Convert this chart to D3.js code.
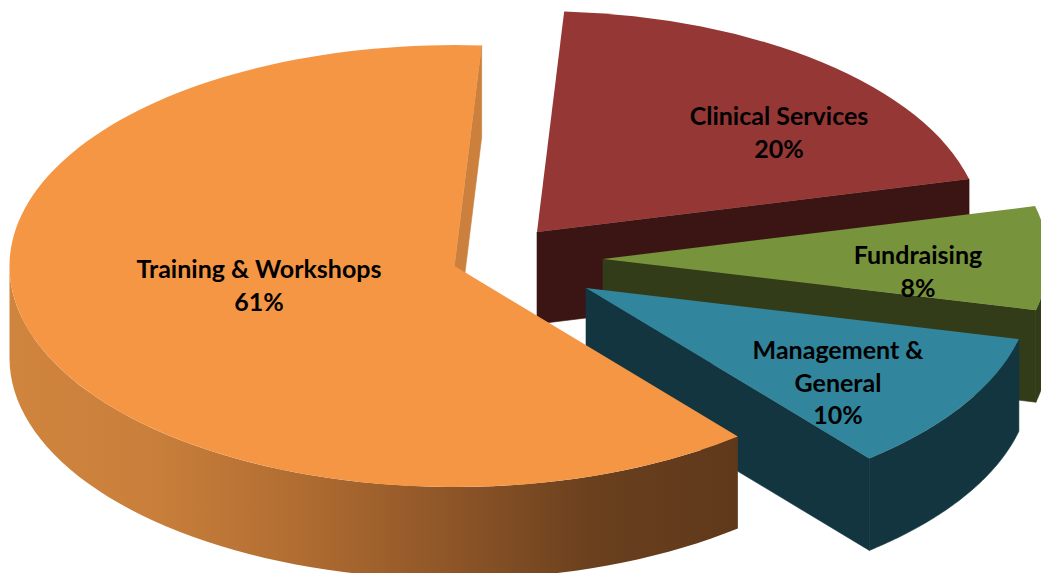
<!DOCTYPE html>
<html>
<head>
<meta charset="utf-8">
<script src="https://cdn.jsdelivr.net/npm/d3@7"></script>
<style>
  html, body { margin: 0; padding: 0; background: #fff; overflow: hidden; }
  svg { display: block; }
</style>
</head>
<body>
<div id="container"></div>
<script>
const width = 1041;
const height = 573;

// chart data, clockwise from the top
const categories = ["Clinical Services", "Fundraising", "Management & General", "Training & Workshops"];
const values = [20.0, 7.5, 10.2, 61.4];
const labelLines = [["Clinical Services"], ["Fundraising"], ["Management &", "General"], ["Training & Workshops"]];

// look of the slices
const topColors = ["#953735", "#77933c", "#31859c", "#f59645"];
const sideColors = ["#3b1514", "#333c18", "#133540", "#cb813d"];
const apexX = [537, 603, 586, 454.5];
const apexY = [232, 259, 288, 266];
const labelX = [779, 918, 838, 259];
const labelY = [125, 264, 359, 278];
const gradientStops = [
  [0, "#d0853e"], [0.2, "#c97f3b"], [0.4, "#b06c31"],
  [0.6, "#8f5628"], [0.8, "#6a401e"], [1, "#5f391b"]
];

const rx = 445;
const ry = 221;
const depth = 92;
const startAngle = 3.5 * Math.PI / 180;
const lineGap = 32.5;

const pie = d3.pie().sort(null).startAngle(startAngle).endAngle(startAngle + 2 * Math.PI);
const arcs = pie(values);
const arc = d3.arc().innerRadius(0).outerRadius(rx);
const line = d3.line();
const percent = d3.format(".0f");

const svg = d3.select("#container")
  .append("svg")
  .attr("width", width)
  .attr("height", height);

// coordinates are relative to the apex, like the wall it fills
const gradient = svg.append("defs")
  .append("linearGradient")
  .attr("id", "trainingSide")
  .attr("gradientUnits", "userSpaceOnUse")
  .attr("x1", -rx)
  .attr("x2", rx * Math.sin(arcs[3].startAngle))
  .attr("y1", 0)
  .attr("y2", 0);

gradient.selectAll("stop")
  .data(gradientStops)
  .enter()
  .append("stop")
  .attr("offset", d => d[0])
  .attr("stop-color", d => d[1]);

// ellipse point for a pie angle, relative to the apex of the slice
const onRim = a => [rx * Math.sin(a), -ry * Math.cos(a)];

// outer wall: only the part of the rim that faces the viewer
function wallPath(d) {
  const from = Math.max(d.startAngle, Math.PI / 2);
  const to = Math.min(d.endAngle, 3 * Math.PI / 2);
  if (to <= from) return null;
  const angles = d3.range(0, 61).map(i => from + (to - from) * i / 60);
  const rim = angles.map(onRim);
  const lower = rim.slice().reverse().map(p => [p[0], p[1] + depth]);
  return line(rim.concat(lower)) + "Z";
}

// cut face along the clockwise edge of the slice
function facePath(d) {
  if (Math.sin(d.endAngle) <= 0) return null;
  const p = onRim(d.endAngle);
  return line([[0, 0], p, [p[0], p[1] + depth], [0, depth]]) + "Z";
}

const slices = svg.selectAll("g.slice")
  .data(arcs)
  .enter()
  .append("g")
  .attr("class", "slice")
  .attr("transform", (d, i) => `translate(${apexX[i]},${apexY[i]})`);

slices.append("path")
  .attr("d", facePath)
  .attr("fill", (d, i) => sideColors[i])
  .attr("stroke", (d, i) => sideColors[i])
  .attr("stroke-width", 0.6);

slices.append("path")
  .attr("d", wallPath)
  .attr("fill", (d, i) => i === 3 ? "url(#trainingSide)" : sideColors[i])
  .attr("stroke", (d, i) => i === 3 ? "none" : sideColors[i])
  .attr("stroke-width", 0.6);

slices.append("path")
  .attr("d", arc)
  .attr("transform", `scale(1,${ry / rx})`)
  .attr("fill", (d, i) => topColors[i]);

const labels = svg.selectAll("text.label")
  .data(categories)
  .enter()
  .append("text")
  .attr("class", "label")
  .attr("text-anchor", "middle")
  .attr("font-family", "Lato, 'Open Sans', sans-serif")
  .attr("font-weight", "bold")
  .attr("font-size", 25)
  .attr("fill", "#000");

labels.each(function (d, i) {
  const rows = labelLines[i].concat([percent(values[i]) + "%"]);
  d3.select(this).selectAll("tspan")
    .data(rows)
    .enter()
    .append("tspan")
    .attr("x", labelX[i])
    .attr("y", (r, k) => labelY[i] + k * lineGap)
    .text(r => r);
});
</script>
</body>
</html>
